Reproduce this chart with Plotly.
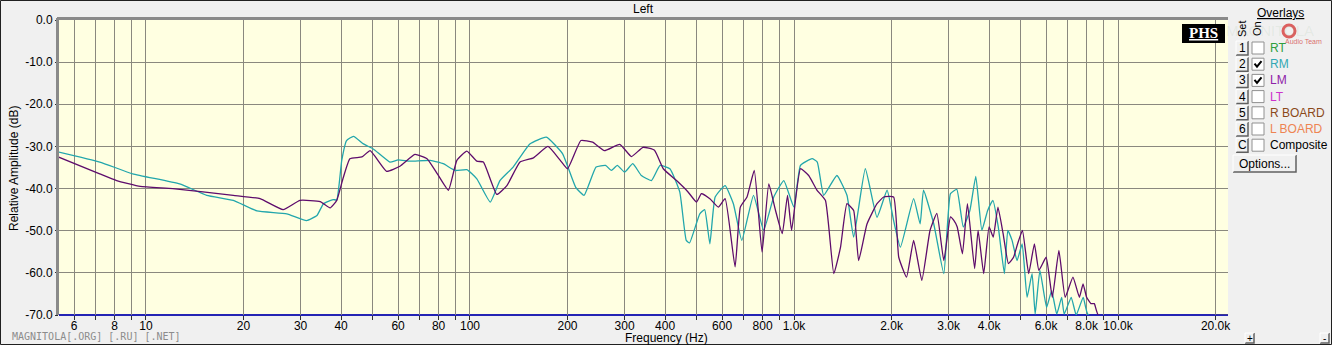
import plotly.graph_objects as go
import math

# ---------------- data ----------------
rm_freq = [5.36, 7.2, 9.1, 12.7, 15.4, 18.6, 22, 27.2, 31.3, 33.7, 35.3, 37.8, 38.8, 40.2, 41.6, 43.7,
           46.9, 50.3, 56.6, 60, 65.3, 75.5, 82.7, 90, 97.8, 105, 115.5, 123.7, 135.9, 153, 172, 193,
           212, 225, 245, 262, 273, 285, 300, 318, 338, 363, 386, 414, 444, 465, 476, 512, 530, 550,
           571, 613, 650, 690, 750, 806, 866, 930, 999, 1047, 1137, 1180, 1235, 1356, 1457, 1528, 1660,
           1804, 1938, 2030, 2130, 2340, 2451, 2510, 2700, 2900, 3040, 3180, 3330, 3490, 3640, 3800,
           3960, 4110, 4270, 4460, 4570, 4710, 4880, 5060, 5240, 5430, 5550, 5740, 6020, 6240, 6470,
           6700, 6820, 7170, 7430, 7810, 8100, 22000]
rm_db = [-31.3, -33.7, -36.5, -38.9, -41.6, -42.8, -45.3, -46.0, -47.6, -46.4, -43.6, -42.6, -42.7,
         -33.3, -28.6, -27.6, -29.4, -30.6, -33.7, -33.2, -33.5, -33.3, -34.1, -35.7, -35.5, -37.7,
         -43.2, -38.1, -34.9, -29.4, -27.8, -31.7, -39.7, -41.6, -34.9, -34.5, -35.7, -34.5, -36.1,
         -34.1, -36.9, -38.1, -34.5, -35.3, -40.8, -52.3, -52.9, -46.0, -45.0, -53.1, -42.0, -39.3,
         -43.6, -52.3, -41.6, -49.9, -42.0, -38.1, -44.4, -34.5, -32.9, -33.7, -41.6, -36.9, -41.6,
         -51.5, -35.3, -46.8, -40.4, -47.6, -53.9, -42.4, -48.4, -40.4, -48.4, -60.2, -41.2, -40.2,
         -49.1, -45.2, -37.1, -49.9, -45.2, -42.8, -49.1, -60.2, -49.9, -52.3, -57.1, -53.1, -65.8,
         -60.2, -69.8, -59.4, -68.2, -64.2, -69.8, -65.8, -69.8, -65.8, -70.0, -65.8, -70.0, -70.0]

lm_freq = [5.36, 7.2, 8.12, 9.6, 12.1, 18.6, 22.5, 26.5, 29.9, 34.5, 37, 38.8, 40.6, 42.6, 46.4, 49.2,
           55.3, 60.8, 67.6, 73.7, 79.3, 85.8, 91.1, 97.8, 105, 110, 121, 130, 142.7, 157, 174, 190,
           200, 220, 239, 260, 290, 315, 342, 371, 395, 434, 471, 500, 518, 550, 584, 613, 658, 683,
           716, 754, 797, 836, 877, 920, 955, 983, 1047, 1110, 1178, 1250, 1327, 1392, 1457, 1528,
           1583, 1680, 1804, 1892, 2030, 2105, 2225, 2340, 2480, 2630, 2760, 2900, 3040, 3110, 3190,
           3310, 3430, 3610, 3700, 3850, 4000, 4120, 4260, 4420, 4590, 4760, 4900, 5070, 5300, 5520,
           5700, 6000, 6270, 6570, 6870, 7260, 7600, 7800, 8000, 8250, 8450, 8700, 22000]
lm_db = [-32.5, -36.5, -38.1, -39.5, -40.0, -41.6, -42.4, -45.0, -42.8, -43.1, -44.6, -42.8, -37.5,
         -32.9, -32.5, -31.0, -35.9, -34.7, -31.9, -32.9, -36.5, -40.4, -33.3, -31.1, -33.5, -33.7,
         -41.4, -39.3, -33.7, -32.7, -30.0, -33.3, -35.3, -28.6, -29.0, -31.0, -29.5, -32.4, -30.2,
         -30.9, -35.3, -38.1, -40.8, -43.2, -41.2, -42.4, -44.4, -42.4, -58.6, -44.4, -42.0, -35.7,
         -55.1, -38.9, -45.2, -50.7, -41.6, -49.9, -35.3, -36.9, -40.4, -42.8, -60.2, -53.9, -43.6,
         -45.2, -57.1, -48.4, -43.6, -42.0, -42.0, -56.3, -61.0, -52.3, -61.8, -49.9, -45.9, -57.1,
         -46.7, -47.5, -49.1, -55.5, -43.6, -59.0, -49.9, -60.2, -49.1, -51.5, -44.4, -50.7, -57.8,
         -56.3, -53.1, -49.9, -60.2, -53.1, -59.4, -56.3, -65.8, -54.7, -65.8, -61.0, -65.8, -62.6,
         -65.8, -67.3, -67.3, -70.0, -70.0]

x_tick_vals = [6, 7, 8, 9, 10, 20, 30, 40, 50, 60, 70, 80, 90, 100, 200, 300, 400, 500, 600, 700, 800,
               900, 1000, 2000, 3000, 4000, 5000, 6000, 7000, 8000, 9000, 10000, 20000]
x_tick_text = ["6", "", "8", "", "10", "20", "30", "40", "", "60", "", "80", "", "100", "200", "300",
               "400", "", "600", "", "800", "", "1.0k", "2.0k", "3.0k", "4.0k", "", "6.0k", "", "8.0k",
               "", "10.0k", "20.0k"]
y_tick_vals = [0, -10, -20, -30, -40, -50, -60, -70]
y_tick_text = ["0.0", "-10.0", "-20.0", "-30.0", "-40.0", "-50.0", "-60.0", "-70.0"]

overlay_sets = ["1", "2", "3", "4", "5", "6", "C"]
overlay_names = ["RT", "RM", "LM", "LT", "R BOARD", "L BOARD", "Composite"]
overlay_on = [False, True, True, False, False, False, False]
overlay_colors = ["#2E9E3E", "#33A9B3", "#8E22A8", "#CC33CC", "#8B4A1A", "#EE8452", "#000000"]

# ---------------- figure geometry helpers ----------------
W, H = 1332, 345
PL, PR, PT, PB = 59, 1228, 20, 315


def px(x):
    return (x - PL) / (PR - PL)


def py(y):
    return (PB - y) / (PB - PT)


FONT = "Liberation Sans, Arial, sans-serif"

fig = go.Figure()
fig.add_trace(go.Scatter(x=rm_freq, y=rm_db, mode="lines", name="RM",
                         line=dict(color="#22A6AC", width=1.3, shape="spline", smoothing=0.4)))
fig.add_trace(go.Scatter(x=lm_freq, y=lm_db, mode="lines", name="LM",
                         line=dict(color="#5E0C6C", width=1.3, shape="spline", smoothing=0.4)))

shapes = []
annotations = []


def text(t, x, y, size=12, color="#000", family=FONT, xanchor="center", angle=0):
    annotations.append(dict(text=t, x=px(x), y=py(y), xref="paper", yref="paper", showarrow=False,
                            xanchor=xanchor, yanchor="middle", textangle=angle,
                            font=dict(size=size, color=color, family=family)))


# bottom blue baseline (between grid and traces)
shapes.append(dict(type="line", xref="paper", yref="paper", x0=0, x1=1, y0=0, y1=0,
                   line=dict(color="#2424B4", width=2), layer="between"))
# sunken frame top / left
shapes.append(dict(type="line", xref="paper", yref="paper", x0=px(57), x1=1, y0=py(18.5), y1=py(18.5),
                   line=dict(color="#8A8A8A", width=3), layer="above"))
shapes.append(dict(type="line", xref="paper", yref="paper", x0=px(57.5), x1=px(57.5), y0=py(18), y1=0,
                   line=dict(color="#8A8A8A", width=3), layer="above"))
# outer window border
shapes.append(dict(type="rect", xref="paper", yref="paper", x0=px(0.5), x1=px(1331.5), y0=py(0.5),
                   y1=py(344.5), line=dict(color="#202020", width=1), fillcolor="rgba(0,0,0,0)"))

# title + axis titles
text("Left", 643, 9)
text("Relative Amplitude (dB)", 14, 169, angle=-90)
text("Frequency (Hz)", 666, 338)
text("MAGNITOLA[.ORG] [.RU] [.NET]", 10, 336, size=10, color="#8C8C8C",
     family="DejaVu Sans Mono, monospace", xanchor="left")

# PHS badge
shapes.append(dict(type="rect", xref="paper", yref="paper", x0=px(1182), x1=px(1225), y0=py(24),
                   y1=py(43), fillcolor="#000000", line=dict(width=0)))
text("<b><u>PHS</u></b>", 1203.5, 33.5, size=15, color="#FFFFFF",
     family="Liberation Serif, Times New Roman, serif")

# faint logo watermark
text("MAGNITOLA", 1270, 31, size=15, color="rgba(120,170,120,0.10)")
text("Audio Team", 1303, 41, size=7, color="rgba(210,60,60,0.75)")
shapes.append(dict(type="circle", xref="paper", yref="paper", x0=px(1283), x1=px(1295), y0=py(25),
                   y1=py(37), line=dict(color="rgba(215,60,60,0.8)", width=3)))

# Overlays header
text("<u>Overlays</u>", 1280, 13)
text("Set", 1242, 29, size=11, angle=-90)
text("On", 1257, 29, size=11, angle=-90)


def button(x0, x1, y0, y1):
    shapes.append(dict(type="rect", xref="paper", yref="paper", x0=px(x0), x1=px(x1), y0=py(y0),
                       y1=py(y1), fillcolor="#F0F0F0", line=dict(width=0)))
    shapes.append(dict(type="path", xref="paper", yref="paper",
                       path=f"M{px(x0)},{py(y1)} L{px(x1)},{py(y1)} L{px(x1)},{py(y0)}",
                       line=dict(color="#606060", width=1.5)))
    shapes.append(dict(type="path", xref="paper", yref="paper",
                       path=f"M{px(x0)},{py(y1)} L{px(x0)},{py(y0)} L{px(x1)},{py(y0)}",
                       line=dict(color="#FFFFFF", width=1)))


for i, (s, name, on, col) in enumerate(zip(overlay_sets, overlay_names, overlay_on, overlay_colors)):
    yc = 48 + i * 16.2
    button(1236, 1248, yc - 7, yc + 7)
    text(s, 1242, yc)
    shapes.append(dict(type="rect", xref="paper", yref="paper", x0=px(1252), x1=px(1264), y0=py(yc - 6),
                       y1=py(yc + 6), fillcolor="#FFFFFF", line=dict(color="#909090", width=1)))
    if on:
        shapes.append(dict(type="path", xref="paper", yref="paper",
                           path=f"M{px(1254.5)},{py(yc - 0.5)} L{px(1257)},{py(yc + 2.5)} "
                                f"L{px(1261.5)},{py(yc - 3)}",
                           line=dict(color="#000000", width=2)))
    text(name, 1268, yc, color=col, xanchor="left")

# Options button
button(1233, 1296, 155, 172)
text("Options...", 1264.5, 163.5)

# zoom +/- buttons
button(1245, 1254, 333, 343)
text("+", 1249.5, 338, size=10)
button(1320, 1329, 333, 343)
text("-", 1324.5, 338, size=10)

fig.update_layout(
    width=W, height=H,
    margin=dict(l=PL, r=W - PR, t=PT, b=H - PB, pad=0, autoexpand=False),
    paper_bgcolor="#F0F0F0",
    plot_bgcolor="#FFFFE1",
    showlegend=False,
    font=dict(family=FONT, size=12, color="#000"),
    shapes=shapes,
    annotations=annotations,
    xaxis=dict(type="log", range=[math.log10(5.39), math.log10(21850)],
               tickvals=x_tick_vals, ticktext=x_tick_text, automargin=False,
               showgrid=True, gridcolor="#8A887E", gridwidth=1,
               ticks="outside", ticklen=4, tickcolor="#303030", tickwidth=1,
               ticklabelstandoff=-4,
               showline=False, zeroline=False, layer="below traces",
               tickfont=dict(size=12, color="#000")),
    yaxis=dict(range=[-70, 0], tickvals=y_tick_vals, ticktext=y_tick_text, automargin=False,
               showgrid=True, gridcolor="#8A887E", gridwidth=1,
               ticks="outside", ticklen=3, tickcolor="#303030",
               showline=False, zeroline=False, tickfont=dict(size=12, color="#000")),
)

fig.write_html("out.html", config={"displayModeBar": False},
               post_script="document.body.style.margin='0';")
